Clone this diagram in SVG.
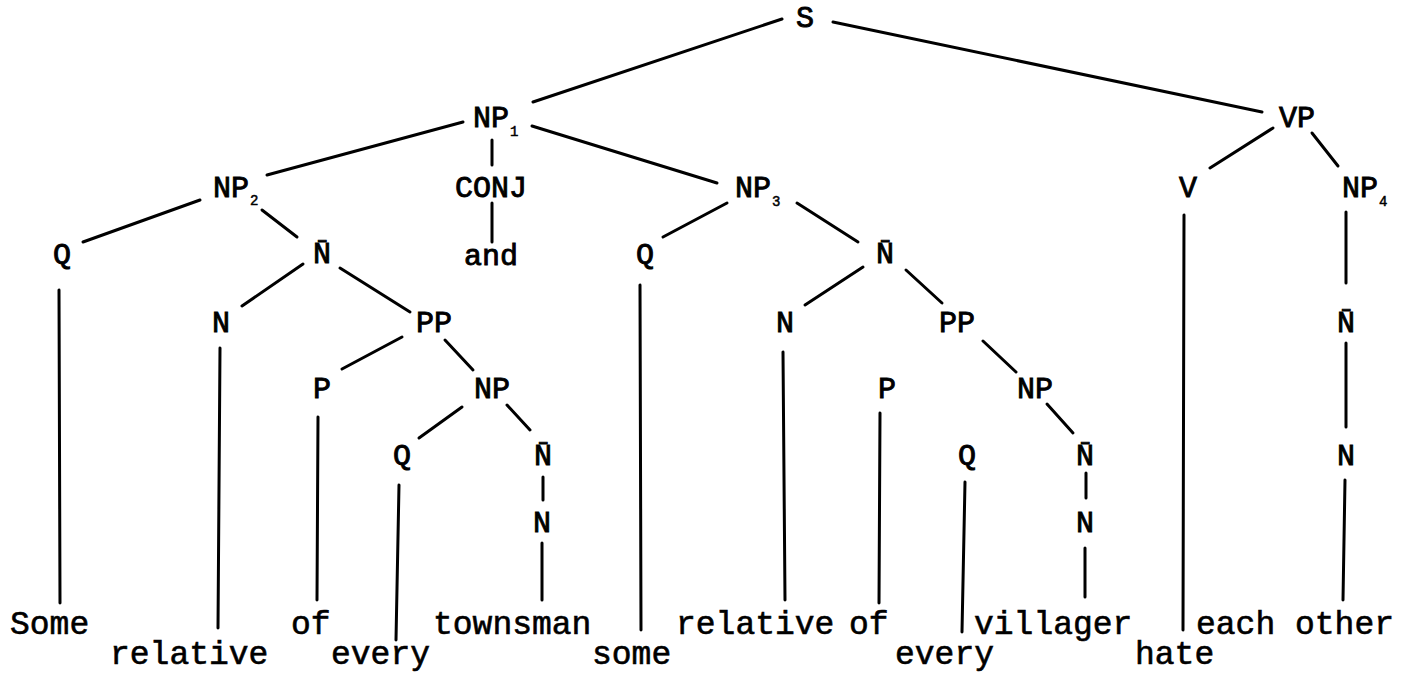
<svg xmlns="http://www.w3.org/2000/svg" width="1410" height="677" viewBox="0 0 1410 677">
<style>
.lbl{font-family:"Liberation Mono","DejaVu Sans Mono",monospace;font-size:30px;text-anchor:middle;fill:#000;stroke:#000;stroke-width:0.9}
.sub{font-family:"Liberation Mono","DejaVu Sans Mono",monospace;font-size:14px;fill:#000;stroke:#000;stroke-width:0.5}
.word{font-family:"Liberation Mono","DejaVu Sans Mono",monospace;font-size:33px;fill:#000;stroke:#000;stroke-width:0.6}
.edge{stroke:#000;stroke-width:3;stroke-linecap:round;fill:none}
</style>
<rect width="1410" height="677" fill="#fff"/>
<g id="connectors" class="edge">
<path d="M782,19 L533,102"/>
<path d="M833,22 L1262,112"/>
<path d="M463,122 L267,175"/>
<path d="M492,140 L492,165"/>
<path d="M532,126 L717,183"/>
<path d="M492,203 L492,242"/>
<path d="M200,200 L83,242"/>
<path d="M262,210 L297,237"/>
<path d="M59,290 L60,603"/>
<path d="M303,264 L242,306"/>
<path d="M340,268 L410,312"/>
<path d="M220,348 L218,628"/>
<path d="M402,337 L342,369"/>
<path d="M445,340 L473,370"/>
<path d="M318,417 L317,600"/>
<path d="M462,407 L419,438"/>
<path d="M507,405 L530,430"/>
<path d="M399,485 L396,640"/>
<path d="M543,477 L543,500"/>
<path d="M542,543 L542,600"/>
<path d="M727,203 L663,237"/>
<path d="M797,203 L858,242"/>
<path d="M640,285 L641,630"/>
<path d="M863,267 L805,305"/>
<path d="M906,270 L942,303"/>
<path d="M783,352 L785,600"/>
<path d="M983,341 L1016,372"/>
<path d="M880,413 L879,603"/>
<path d="M1047,404 L1073,433"/>
<path d="M965,482 L962,632"/>
<path d="M1086,473 L1086,498"/>
<path d="M1085,548 L1085,597"/>
<path d="M1273,128 L1210,168"/>
<path d="M1312,133 L1338,166"/>
<path d="M1184,215 L1183,630"/>
<path d="M1346,212 L1346,283"/>
<path d="M1346,343 L1346,427"/>
<path d="M1345,480 L1343,600"/>
</g>
<g id="n-S"><text class="lbl" x="805" y="27">S</text></g>
<g id="n-NP1"><text class="lbl" x="491" y="127">NP</text><text class="sub" x="510" y="136">1</text></g>
<g id="n-VP"><text class="lbl" x="1297" y="127">VP</text></g>
<g id="n-NP2"><text class="lbl" x="231" y="197">NP</text><text class="sub" x="250" y="205">2</text></g>
<g id="n-CONJ"><text class="lbl" x="491" y="197">CONJ</text></g>
<g id="n-NP3"><text class="lbl" x="753" y="197">NP</text><text class="sub" x="772" y="206">3</text></g>
<g id="n-V"><text class="lbl" x="1188" y="197">V</text></g>
<g id="n-NP4"><text class="lbl" x="1360" y="197">NP</text><text class="sub" x="1379" y="206">4</text></g>
<g id="n-Q1"><text class="lbl" x="62" y="264">Q</text></g>
<g id="n-Nbar1"><text class="lbl" x="322" y="263">N&#x304;</text></g>
<g id="n-and"><text class="lbl" x="491" y="265">and</text></g>
<g id="n-Q2"><text class="lbl" x="645" y="264">Q</text></g>
<g id="n-Nbar2"><text class="lbl" x="885" y="263">N&#x304;</text></g>
<g id="n-N1"><text class="lbl" x="221" y="332">N</text></g>
<g id="n-PP1"><text class="lbl" x="434" y="332">PP</text></g>
<g id="n-N2"><text class="lbl" x="785" y="332">N</text></g>
<g id="n-PP2"><text class="lbl" x="957" y="332">PP</text></g>
<g id="n-Nbar4"><text class="lbl" x="1346" y="332">N&#x304;</text></g>
<g id="n-P1"><text class="lbl" x="322" y="398">P</text></g>
<g id="n-NP5"><text class="lbl" x="492" y="398">NP</text></g>
<g id="n-P2"><text class="lbl" x="887" y="398">P</text></g>
<g id="n-NP6"><text class="lbl" x="1035" y="398">NP</text></g>
<g id="n-Q3"><text class="lbl" x="402" y="465">Q</text></g>
<g id="n-Nbar3"><text class="lbl" x="543" y="465">N&#x304;</text></g>
<g id="n-Q4"><text class="lbl" x="967" y="465">Q</text></g>
<g id="n-Nbar5"><text class="lbl" x="1085" y="465">N&#x304;</text></g>
<g id="n-N5"><text class="lbl" x="1346" y="465">N</text></g>
<g id="n-N3"><text class="lbl" x="542" y="532">N</text></g>
<g id="n-N4"><text class="lbl" x="1085" y="532">N</text></g>
<g id="words">
<text class="word" x="10" y="634">Some</text>
<text class="word" x="291" y="634">of</text>
<text class="word" x="433" y="634">townsman</text>
<text class="word" x="676" y="634">relative</text>
<text class="word" x="849" y="634">of</text>
<text class="word" x="974" y="634">villager</text>
<text class="word" x="1196" y="634">each other</text>
<text class="word" x="110" y="664">relative</text>
<text class="word" x="331" y="664">every</text>
<text class="word" x="592" y="664">some</text>
<text class="word" x="895" y="664">every</text>
<text class="word" x="1135" y="664">hate</text>
</g>
</svg>
